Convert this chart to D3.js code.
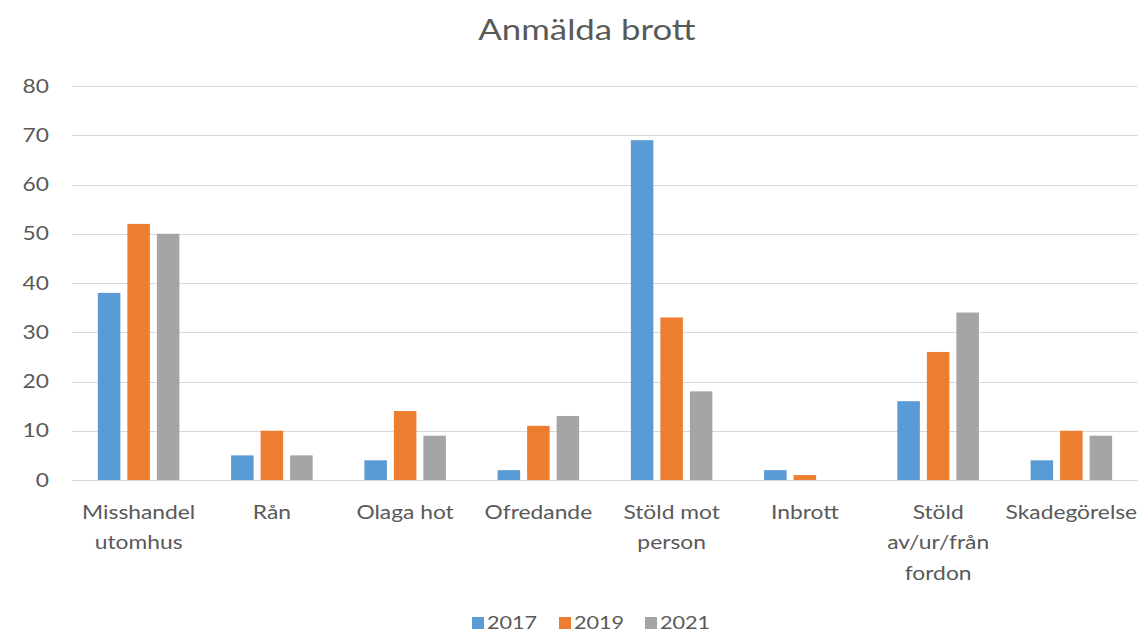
<!DOCTYPE html>
<html>
<head>
<meta charset="utf-8">
<script src="https://cdn.jsdelivr.net/npm/d3@7"></script>
<style>
  body { margin: 0; background: #fff; }
  text { font-family: Lato, "Open Sans", sans-serif; fill: #595959; }
</style>
</head>
<body>
<div id="chart"></div>
<script>
// data
const categories = [
  ["Misshandel", "utomhus"],
  ["Rån"],
  ["Olaga hot"],
  ["Ofredande"],
  ["Stöld mot", "person"],
  ["Inbrott"],
  ["Stöld", "av/ur/från", "fordon"],
  ["Skadegörelse"]
];
const years = ["2017", "2019", "2021"];
const values2017 = [38, 5, 4, 2, 69, 2, 16, 4];
const values2019 = [52, 10, 14, 11, 33, 1, 26, 10];
const values2021 = [50, 5, 9, 13, 18, 0, 34, 9];
const yTicks = [0, 10, 20, 30, 40, 50, 60, 70, 80];
const colors = ["#5b9bd5", "#ed7d31", "#a5a5a5"];

const width = 1138, height = 632;
const margin = { top: 86, right: 0, bottom: 152, left: 72 };
// the source picture is a bit stretched sideways, so text gets widened too
const stretch = 1.2;

const svg = d3.select("#chart").append("svg")
  .attr("width", width)
  .attr("height", height);

const catNames = categories.map((c) => c.join(" "));
const series = [values2017, values2019, values2021];

//scales
const x0 = d3.scaleBand()
  .domain(catNames)
  .range([margin.left, width - margin.right])
  .paddingInner(0.388)
  .paddingOuter(0.194);

const x1 = d3.scaleBand()
  .domain(years)
  .range([0, x0.bandwidth()])
  .paddingInner(0.237)
  .paddingOuter(0);

const y = d3.scaleLinear()
  .domain([0, 80])
  .range([height - margin.bottom, margin.top]);

const color = d3.scaleOrdinal().domain(years).range(colors);

//gridlines
svg.append("g")
  .selectAll("line")
  .data(yTicks)
  .join("line")
  .attr("x1", margin.left)
  .attr("x2", width - margin.right)
  .attr("y1", (d) => Math.round(y(d)) + 0.5)
  .attr("y2", (d) => Math.round(y(d)) + 0.5)
  .attr("stroke", "#d9d9d9")
  .attr("stroke-width", 1);

//y axis labels
const yAxis = d3.axisLeft(y).tickValues(yTicks).tickSize(0).tickPadding(0);
svg.append("g")
  .attr("transform", `translate(49, 0)`)
  .call(yAxis)
  .call((g) => g.select(".domain").remove())
  .selectAll("text")
  .attr("font-size", 19)
  .attr("fill", "#595959")
  .attr("transform", `scale(${stretch},1)`)
  .style("font-family", "Lato, sans-serif");

//bars
const groups = svg.append("g")
  .selectAll("g")
  .data(catNames)
  .join("g")
  .attr("transform", (d) => `translate(${x0(d)}, 0)`);

groups.selectAll("rect")
  .data((d, i) => years.map((yr, j) => ({ year: yr, value: series[j][i] })))
  .join("rect")
  .attr("x", (d) => x1(d.year))
  .attr("y", (d) => y(d.value))
  .attr("width", x1.bandwidth())
  .attr("height", (d) => y(0) - y(d.value))
  .attr("fill", (d) => color(d.year));

//category labels
const xLabels = svg.append("g")
  .selectAll("text")
  .data(categories)
  .join("text")
  .attr("text-anchor", "middle")
  .attr("font-size", 19)
  .attr("transform", (d, i) =>
    `translate(${x0(catNames[i]) + x0.bandwidth() / 2}, 519) scale(${stretch},1)`);

xLabels.selectAll("tspan")
  .data((d) => d)
  .join("tspan")
  .attr("x", 0)
  .attr("dy", (d, i) => (i === 0 ? 0 : 30.5))
  .text((d) => d);

//title
svg.append("text")
  .attr("transform", `translate(587, 40) scale(${stretch},1)`)
  .attr("text-anchor", "middle")
  .attr("font-size", 29)
  .text("Anmälda brott");

//legend
const legendX = [472, 559, 645];
const legend = svg.append("g")
  .selectAll("g")
  .data(years)
  .join("g")
  .attr("transform", (d, i) => `translate(${legendX[i]}, 617)`);

legend.append("rect")
  .attr("width", 12)
  .attr("height", 12)
  .attr("fill", (d) => color(d));

legend.append("text")
  .attr("transform", `translate(15, 12) scale(${stretch},1)`)
  .attr("font-size", 18)
  .text((d) => d);
</script>
</body>
</html>
